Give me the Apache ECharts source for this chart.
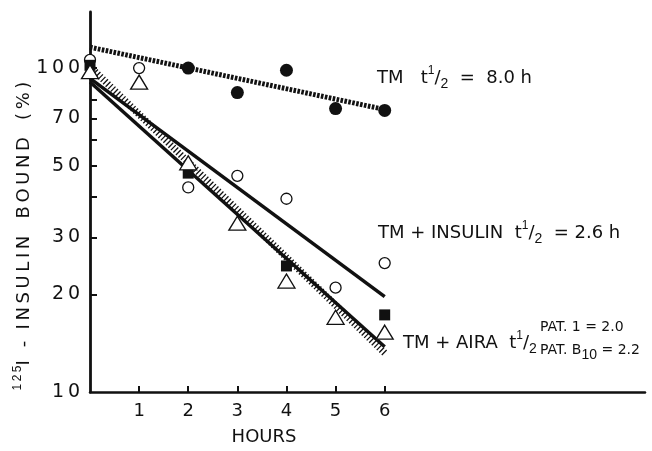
<!DOCTYPE html>
<html>
<head>
<meta charset="utf-8">
<title>125I-insulin bound vs hours</title>
<script src="https://cdn.jsdelivr.net/npm/echarts@6/dist/echarts.min.js"></script>
<style>
  html, body { margin: 0; padding: 0; background: #fff; }
  #chart { width: 652px; height: 451px; }
</style>
</head>
<body>
<div id="chart"></div>
<script>
// measured points (hours, % bound)
const tmHours = [2, 3, 4, 5, 6];
const tmValues = [100, 84, 98.5, 75, 74];

const insulinHours = [0, 1, 2, 3, 4, 5, 6];
const insulinValues = [106, 100, 42.8, 46.5, 39.5, 21, 25];

const pat1Hours = [0, 2, 4, 6];
const pat1Values = [102, 47.4, 24.5, 17.3];

const patB10Hours = [0, 1, 2, 3, 4, 5, 6];
const patB10Values = [97.5, 90.5, 51, 33.2, 22, 17, 15.3];

// regression lines, value at 0 h and 6 h
const fitHours = [0, 6];
const tmFit = [116, 74.5];
const insulinFit = [93, 19.7];
const airaSolidFit = [90.6, 13.8];
const airaHatchFit = [101, 13.2];

// axis ticks
const hourTicks = [1, 2, 3, 4, 5, 6];
const boundLabels = [10, 20, 30, 50, 70, 100];
const boundTicks = [20, 30, 40, 50, 60, 70, 80, 100];

const INK = '#111';
const FONT = 'DejaVu Sans';
const TS = '\u2009'; // thin space, the original lettering is widely spaced

function pairs(xs, ys) {
    return xs.map((x, i) => [x, ys[i]]);
}

function spaced(s) {
    return s.split('').join(TS);
}

function fitLine(values, lineStyle) {
    return {
        type: 'line',
        data: pairs(fitHours, values),
        showSymbol: false,
        silent: true,
        lineStyle: Object.assign({ color: INK, cap: 'butt', opacity: 1 }, lineStyle),
        z: 2
    };
}

function points(xs, ys, symbol, size, filled) {
    return {
        type: 'scatter',
        data: pairs(xs, ys),
        symbol: symbol,
        symbolSize: size,
        itemStyle: filled
            ? { color: INK, opacity: 1 }
            : { color: '#fff', borderColor: INK, borderWidth: 1.3, opacity: 1 },
        z: 5
    };
}

const halfRich = {
    u: { fontSize: 12, verticalAlign: 'top', lineHeight: 12, fill: INK },
    d: { fontSize: 14, verticalAlign: 'bottom', lineHeight: 14, fill: INK }
};

const chart = echarts.init(document.getElementById('chart'), null, { renderer: 'canvas' });

chart.setOption({
    animation: false,
    backgroundColor: '#fff',
    grid: { left: 90, right: 7, top: 12, bottom: 59 },
    xAxis: {
        type: 'value',
        min: 0,
        max: 11.3,
        interval: 1,
        splitLine: { show: false },
        axisLine: { lineStyle: { color: INK, width: 2.5 } },
        axisTick: { inside: true, length: 6, lineStyle: { color: INK, width: 2 }, customValues: hourTicks },
        axisLabel: { color: INK, fontFamily: FONT, fontSize: 18, margin: 10, customValues: hourTicks }
    },
    yAxis: {
        type: 'log',
        logBase: 10,
        min: 10,
        max: 149,
        splitLine: { show: false },
        axisLine: { show: true, lineStyle: { color: INK, width: 2.8 } },
        axisTick: { show: true, inside: true, length: 7, lineStyle: { color: INK, width: 2 }, customValues: boundTicks },
        axisLabel: {
            color: INK, fontFamily: FONT, fontSize: 19, margin: 10, customValues: boundLabels,
            formatter: v => spaced(String(v))
        }
    },
    series: [
        fitLine(tmFit, { width: 5, type: [2.6, 1.4] }),
        fitLine(insulinFit, { width: 3.5 }),
        fitLine(airaSolidFit, { width: 3.5 }),
        fitLine(airaHatchFit, { width: 7, type: [1.3, 2.2] }),
        points(tmHours, tmValues, 'circle', 13, true),
        points(insulinHours, insulinValues, 'circle', 11, false),
        points(pat1Hours, pat1Values, 'rect', 11, true),
        points(patB10Hours, patB10Values, 'triangle', [17, 14], false)
    ],
    graphic: [
        {
            type: 'text', rotation: Math.PI / 2,
            x: 24, y: 236,
            style: {
                text: '{s|' + spaced('125') + '}' + spaced('I -') + '  ' + spaced('INSULIN') + '   ' +
                      spaced('BOUND') + '   ' + spaced('(%)'),
                fill: INK, font: '18px "' + FONT + '"',
                align: 'center', verticalAlign: 'middle', lineHeight: 24,
                rich: { s: { fontSize: 12, verticalAlign: 'top', lineHeight: 12, fill: INK } }
            }
        },
        {
            type: 'text', x: 264, y: 437,
            style: { text: 'HOURS', fill: INK, font: '18px "' + FONT + '"', align: 'center', verticalAlign: 'middle' }
        },
        {
            type: 'text', x: 377, y: 65,
            style: {
                text: 'TM   t{u|1}/{d|2}  =  8.0 h',
                fill: INK, font: '18px "' + FONT + '"', lineHeight: 26, rich: halfRich
            }
        },
        {
            type: 'text', x: 378, y: 220,
            style: {
                text: 'TM + INSULIN  t{u|1}/{d|2}  = 2.6 h',
                fill: INK, font: '18px "' + FONT + '"', lineHeight: 26, rich: halfRich
            }
        },
        {
            type: 'text', x: 403, y: 330,
            style: {
                text: 'TM + AIRA  t{u|1}/{d|2}',
                fill: INK, font: '18px "' + FONT + '"', lineHeight: 26, rich: halfRich
            }
        },
        {
            type: 'text', x: 540, y: 320,
            style: { text: 'PAT. 1 = 2.0', fill: INK, font: '14px "' + FONT + '"' }
        },
        {
            type: 'text', x: 540, y: 338,
            style: {
                text: 'PAT. B{d|10} = 2.2',
                fill: INK, font: '14px "' + FONT + '"', lineHeight: 24,
                rich: { d: { fontSize: 14, verticalAlign: 'bottom', lineHeight: 14, fill: INK } }
            }
        }
    ]
});
</script>
</body>
</html>
